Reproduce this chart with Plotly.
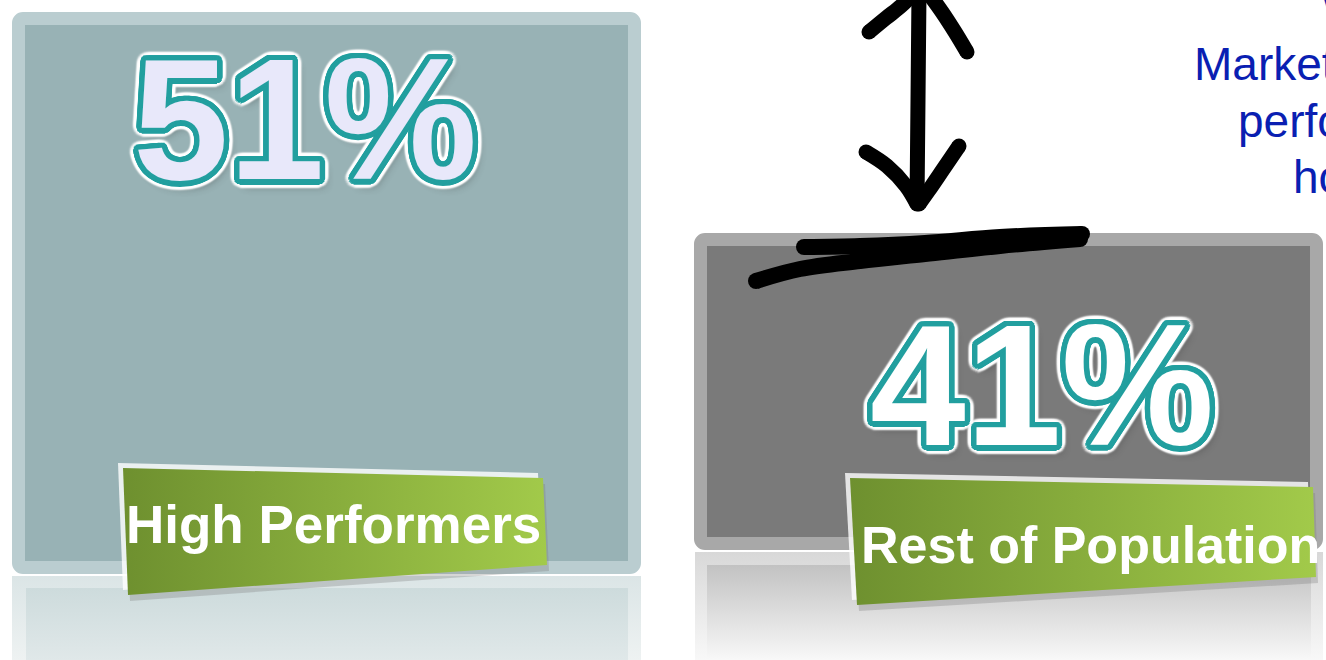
import math
import plotly.graph_objects as go

# ---------------- data ----------------
categories = ["High Performers", "Rest of Population"]
values = [51, 41]
value_labels = ["51%", "41%"]
side_note_lines = ["W", "Marketing", "performance", "how"]

# ---------------- style / geometry (canvas pixels) ----------------
W, H = 1326, 660
BAR_TOP_PX = [18.5, 239.5]          # where each bar top lands on canvas
BAR_BASE_PX = [567.5, 543.5]        # bottom edge of each framed box
PX_PER_UNIT = (BAR_TOP_PX[1] - BAR_TOP_PX[0]) / (values[0] - values[1])
Y_TOP = values[0] + BAR_TOP_PX[0] / PX_PER_UNIT
Y_BOTTOM = Y_TOP - H / PX_PER_UNIT
bases = [Y_TOP - p / PX_PER_UNIT for p in BAR_BASE_PX]

CAT_CENTER_PX = [326.5, 1009.0]
PX_PER_CAT = CAT_CENTER_PX[1] - CAT_CENTER_PX[0]
X_RANGE = [-CAT_CENTER_PX[0] / PX_PER_CAT, (W - CAT_CENTER_PX[0]) / PX_PER_CAT]
BAR_WIDTH = 616 / PX_PER_CAT

box_fill = ["#98b2b5", "#7a7a7a"]
box_frame = ["#bacdd0", "#a8a8a8"]
label_fill = ["#e8e8fa", "#ffffff"]
label_dx = [-22, 33]
label_dy = [-100, -145.5]

FONT = "Liberation Sans, Arial, sans-serif"
TEAL = "#229f9f"


def outline_shadow(color, r, n=24, blur=0):
    parts = []
    for k in range(n):
        a = 2 * math.pi * k / n
        parts.append(f"{r*math.cos(a):.1f}px {r*math.sin(a):.1f}px {blur}px {color}")
    return parts


pct_shadow = ", ".join(
    outline_shadow(TEAL, 5.5)
    + outline_shadow(TEAL, 3.0, 12)
    + outline_shadow("rgba(255,255,255,0.9)", 8.5, 24, 2)
    + ["5px 7px 8px rgba(40,40,40,0.45)"]
)

fig = go.Figure()

# framed boxes (the bars)
fig.add_trace(go.Bar(
    x=categories, y=[v - b for v, b in zip(values, bases)], base=bases,
    width=BAR_WIDTH,
    marker=dict(color=box_fill, line=dict(color=box_frame, width=13), cornerradius=5),
    hoverinfo="skip", showlegend=False,
))


# ---------------- decorations on a pixel overlay ----------------
def poly(xs, ys, gradient=None, color=None, opacity=1.0):
    kw = dict(x=xs + [xs[0]], y=ys + [ys[0]], mode="lines", fill="toself",
              xaxis="x2", yaxis="y2", hoverinfo="skip", showlegend=False,
              opacity=opacity, line=dict(width=0, color="rgba(0,0,0,0)"))
    if gradient:
        kw["fillgradient"] = gradient
    else:
        kw["fillcolor"] = color
    fig.add_trace(go.Scatter(**kw))


def stroke(xs, ys, width, color="black"):
    fig.add_trace(go.Scatter(
        x=xs, y=ys, mode="lines", xaxis="x2", yaxis="y2",
        line=dict(color=color, width=width, shape="spline"),
        hoverinfo="skip", showlegend=False))
    # round caps
    fig.add_trace(go.Scatter(
        x=[xs[0], xs[-1]], y=[ys[0], ys[-1]], mode="markers", xaxis="x2", yaxis="y2",
        marker=dict(color=color, size=width, line=dict(width=0)),
        hoverinfo="skip", showlegend=False))


# reflections below boxes
refl = [
    dict(outer=(12, 641, 576), inner=(26, 628, 588),
         frame=["#dbe5e6", "#eef2f2"], fill=["#cddbdc", "#e0e8e9"]),
    dict(outer=(695, 1323, 552), inner=(707, 1311, 565),
         frame=["#d8d8d8", "#f8f8f8"], fill=["#c2c2c2", "#f8f8f8"]),
]
for r in refl:
    x0, x1, y0 = r["outer"]
    poly([x0, x1, x1, x0], [y0, y0, H, H],
         gradient=dict(type="vertical", start=y0, stop=H,
                       colorscale=[[0, r["frame"][0]], [1, r["frame"][1]]]))
    x0, x1, y0 = r["inner"]
    poly([x0, x1, x1, x0], [y0, y0, H, H],
         gradient=dict(type="vertical", start=y0, stop=H,
                       colorscale=[[0, r["fill"][0]], [1, r["fill"][1]]]))

# green label banners
banners = [
    dict(xs=[123, 543, 547, 128], ys=[468, 478, 565, 595]),
    dict(xs=[850, 1313, 1316, 857], ys=[478, 487, 577, 605]),
]
for b in banners:
    xs, ys = b["xs"], b["ys"]
    poly([x + 2 for x in xs], [y + 6 for y in ys], color="rgba(120,120,120,0.30)")
    poly([x - 5 for x in xs], [y - 5 for y in ys], color="rgba(255,255,255,0.8)")
    poly(xs, ys, gradient=dict(type="horizontal", start=min(xs), stop=max(xs),
                               colorscale=[[0, "#6e902f"], [1, "#a2ca4a"]]))

# hand-drawn double arrow
arrow_strokes = [
    ([919, 918, 917], [-8, 100, 203]),
    ([866, 887, 906, 917], [152, 166, 186, 204]),
    ([959, 944, 929, 919], [146, 168, 190, 204]),
    ([869, 886, 901, 913], [32, 18, 6, -6]),
    ([967, 955, 942, 929], [52, 32, 12, -6]),
]
for xs, ys in arrow_strokes:
    stroke(xs, ys, 15)

# black marker stroke across the lower box top
marker_strokes = [
    ([756, 800, 860, 925, 1000, 1080], [281, 269, 261, 254, 246, 239]),
    ([804, 860, 925, 1000, 1082], [247, 246, 243, 237, 234]),
]
for xs, ys in marker_strokes:
    stroke(xs, ys, 16)

annotations = []
# big percentage labels anchored to bar tops
for cat, val, lab, fill, dx, dy in zip(categories, values, value_labels,
                                        label_fill, label_dx, label_dy):
    annotations.append(dict(
        x=cat, y=val, xref="x", yref="y", text=lab, showarrow=False,
        xanchor="center", yanchor="middle", xshift=dx, yshift=dy,
        font=dict(family=FONT, size=172, color=fill, weight="bold",
                  shadow=pct_shadow)))

# banner texts (category names)
banner_text_pos = [(333, 524.5, 53), (1090, 544.5, 52)]
for cat, (bx, by, fs) in zip(categories, banner_text_pos):
    annotations.append(dict(
        x=bx, y=by, xref="x2", yref="y2", text=cat, showarrow=False,
        xanchor="center", yanchor="middle",
        font=dict(family=FONT, size=fs, color="white", weight="bold")))

# blue side note (cut off at right edge, as in the source)
note_pos = [(1316, 13), (1192, 82), (1236, 139), (1291, 195)]
for txt, (nx, ny) in zip(side_note_lines, note_pos):
    annotations.append(dict(
        x=nx, y=ny, xref="x2", yref="y2", text=txt, showarrow=False,
        xanchor="left", yanchor="bottom", yshift=-10,
        font=dict(family=FONT, size=46, color="#0a1fb2")))

axis_hidden = dict(visible=False, showgrid=False, zeroline=False, fixedrange=True)
fig.update_layout(
    width=W, height=H, margin=dict(l=0, r=0, t=0, b=0),
    paper_bgcolor="white", plot_bgcolor="white",
    bargap=0, showlegend=False,
    xaxis=dict(axis_hidden, range=X_RANGE, type="category"),
    yaxis=dict(axis_hidden, range=[Y_BOTTOM, Y_TOP]),
    xaxis2=dict(axis_hidden, range=[0, W], overlaying="x"),
    yaxis2=dict(axis_hidden, range=[H, 0], overlaying="y"),
    annotations=annotations,
)

fig.write_html("out.html", config=dict(displayModeBar=False),
               post_script="document.body.style.margin='0px';document.body.style.overflow='hidden';")
